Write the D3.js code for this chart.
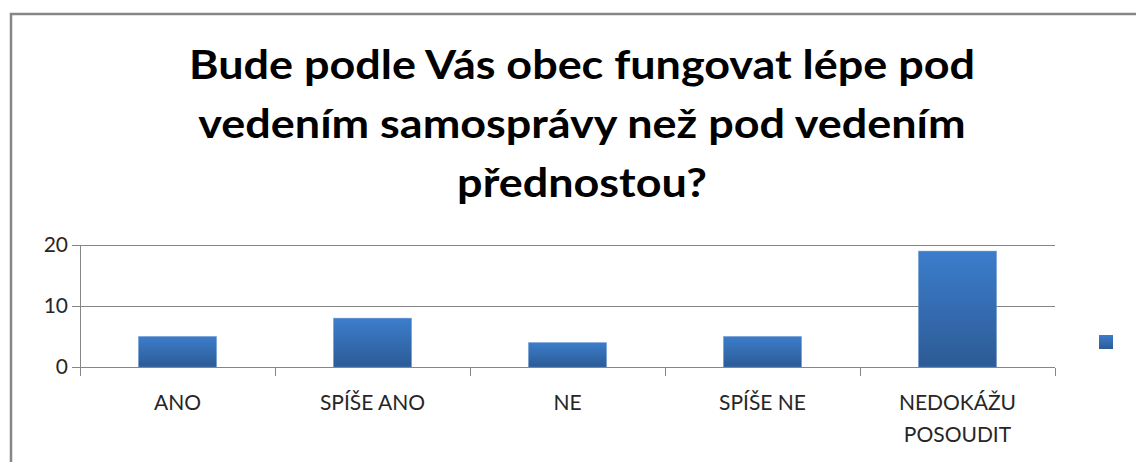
<!DOCTYPE html>
<html lang="cs">
<head>
    <meta charset="UTF-8">
    <title>Bude podle Vás obec fungovat lépe</title>
    <style>
        html, body {
            margin: 0;
            overflow: hidden;
            background: #fff;
            font-family: Lato, "Open Sans", sans-serif;
        }
        svg {
            display: block;
        }
        .grid line {
            stroke: #868686;
            shape-rendering: crispEdges;
        }
        .axis path,
        .axis line {
            stroke: #868686;
            fill: none;
            shape-rendering: crispEdges;
        }
        .axis text {
            fill: #262626;
        }
    </style>
</head>
<body>
    <svg id="chart" width="1136" height="462"></svg>

    <script src="https://d3js.org/d3.v7.min.js"></script>
    <script>
        const categories = ['ANO', 'SPÍŠE ANO', 'NE', 'SPÍŠE NE', 'NEDOKÁŽU POSOUDIT'];
        const values = [5, 8, 4, 5, 19];
        const yTicks = [0, 10, 20];
        const titleLines = [
            'Bude podle Vás obec fungovat lépe pod',
            'vedením samosprávy než pod vedením',
            'přednostou?'
        ];

        const svg = d3.select('#chart');
        const margin = { top: 245, right: 81, bottom: 95, left: 80 };
        const width = 1136 - margin.left - margin.right;
        const height = 462 - margin.top - margin.bottom;

        // outer chart frame: only the top and left edges are inside the picture
        svg.append('path')
            .attr('d', 'M11,462V14H1136')
            .attr('fill', 'none')
            .attr('stroke', '#868686')
            .attr('stroke-width', 2.5);

        const defs = svg.append('defs');
        const grad = defs.append('linearGradient')
            .attr('id', 'barGrad')
            .attr('x1', 0).attr('y1', 0).attr('x2', 0).attr('y2', 1);
        grad.append('stop').attr('offset', '0%').attr('stop-color', '#3c7dcc');
        grad.append('stop').attr('offset', '100%').attr('stop-color', '#2c5b95');

        // title, squeezed a little to mimic the narrower original face
        const title = svg.append('g');
        const baselines = [79, 138, 197];
        const titleSize = 41;
        const lines = titleLines.map((line, i) => title.append('text')
            .attr('x', 582)
            .attr('y', baselines[i])
            .attr('text-anchor', 'middle')
            .attr('font-weight', 'bold')
            .attr('font-size', titleSize)
            .attr('fill', '#000')
            .text(line));
        const k = 786 / lines[0].node().getComputedTextLength();
        lines.forEach(t => {
            t.attr('textLength', t.node().getComputedTextLength() * k)
             .attr('lengthAdjust', 'spacingAndGlyphs');
        });

        const g = svg.append('g').attr('transform', `translate(${margin.left},${margin.top})`);

        const x = d3.scaleBand().domain(categories).range([0, width]).paddingInner(0).paddingOuter(0);
        const y = d3.scaleLinear().domain([0, 20]).range([height, height - 20 * 6.1]);

        // gridlines
        g.append('g').attr('class', 'grid')
            .selectAll('line')
            .data(yTicks.filter(t => t > 0))
            .enter().append('line')
            .attr('x1', 0).attr('x2', width)
            .attr('y1', d => Math.round(y(d)) + 0.5)
            .attr('y2', d => Math.round(y(d)) + 0.5);

        // bars
        const barW = x.bandwidth() * 0.4;
        g.selectAll('.bar')
            .data(values)
            .enter().append('rect')
            .attr('class', 'bar')
            .attr('x', (d, i) => x(categories[i]) + (x.bandwidth() - barW) / 2)
            .attr('y', d => y(d))
            .attr('width', barW)
            .attr('height', d => y(0) - y(d))
            .attr('fill', 'url(#barGrad)')
            .attr('stroke', '#5b8ccc')
            .attr('stroke-opacity', 0.5)
            .attr('stroke-width', 0.8);

        // y axis
        const yAxis = g.append('g').attr('class', 'axis')
            .call(d3.axisLeft(y).tickValues(yTicks).tickSize(8).tickPadding(4));
        yAxis.select('.domain').attr('d', `M0.5,${y(20)}V${height + 8}`);
        yAxis.selectAll('text').attr('font-size', 21).attr('font-family', 'Lato, sans-serif');

        // x axis
        const xAxis = g.append('g').attr('class', 'axis')
            .attr('transform', `translate(0,${Math.round(height) + 0.5})`)
            .call(d3.axisBottom(x).tickSize(0).tickFormat(''));
        xAxis.select('.domain').attr('d', `M0,0H${width}`);
        xAxis.selectAll('.tick').remove();

        const sep = d3.range(categories.length + 1).map(i => i * x.bandwidth());
        xAxis.selectAll('.sep')
            .data(sep)
            .enter().append('line')
            .attr('class', 'sep')
            .attr('x1', d => Math.round(d) + 0.5).attr('x2', d => Math.round(d) + 0.5)
            .attr('y1', 0).attr('y2', 8);

        const labels = g.append('g');
        categories.forEach((c, i) => {
            const words = c === 'NEDOKÁŽU POSOUDIT' ? ['NEDOKÁŽU', 'POSOUDIT'] : [c];
            const t = labels.append('text')
                .attr('x', x(c) + x.bandwidth() / 2)
                .attr('y', 410 - margin.top)
                .attr('text-anchor', 'middle')
                .attr('font-size', 21)
                .attr('fill', '#262626');
            words.forEach((w, j) => {
                t.append('tspan')
                    .attr('x', x(c) + x.bandwidth() / 2)
                    .attr('dy', j === 0 ? 0 : 32)
                    .text(w);
            });
        });

        // legend marker (series has no name)
        svg.append('rect')
            .attr('x', 1099).attr('y', 335)
            .attr('width', 14).attr('height', 14)
            .attr('fill', 'url(#barGrad)');
    </script>
</body>
</html>
